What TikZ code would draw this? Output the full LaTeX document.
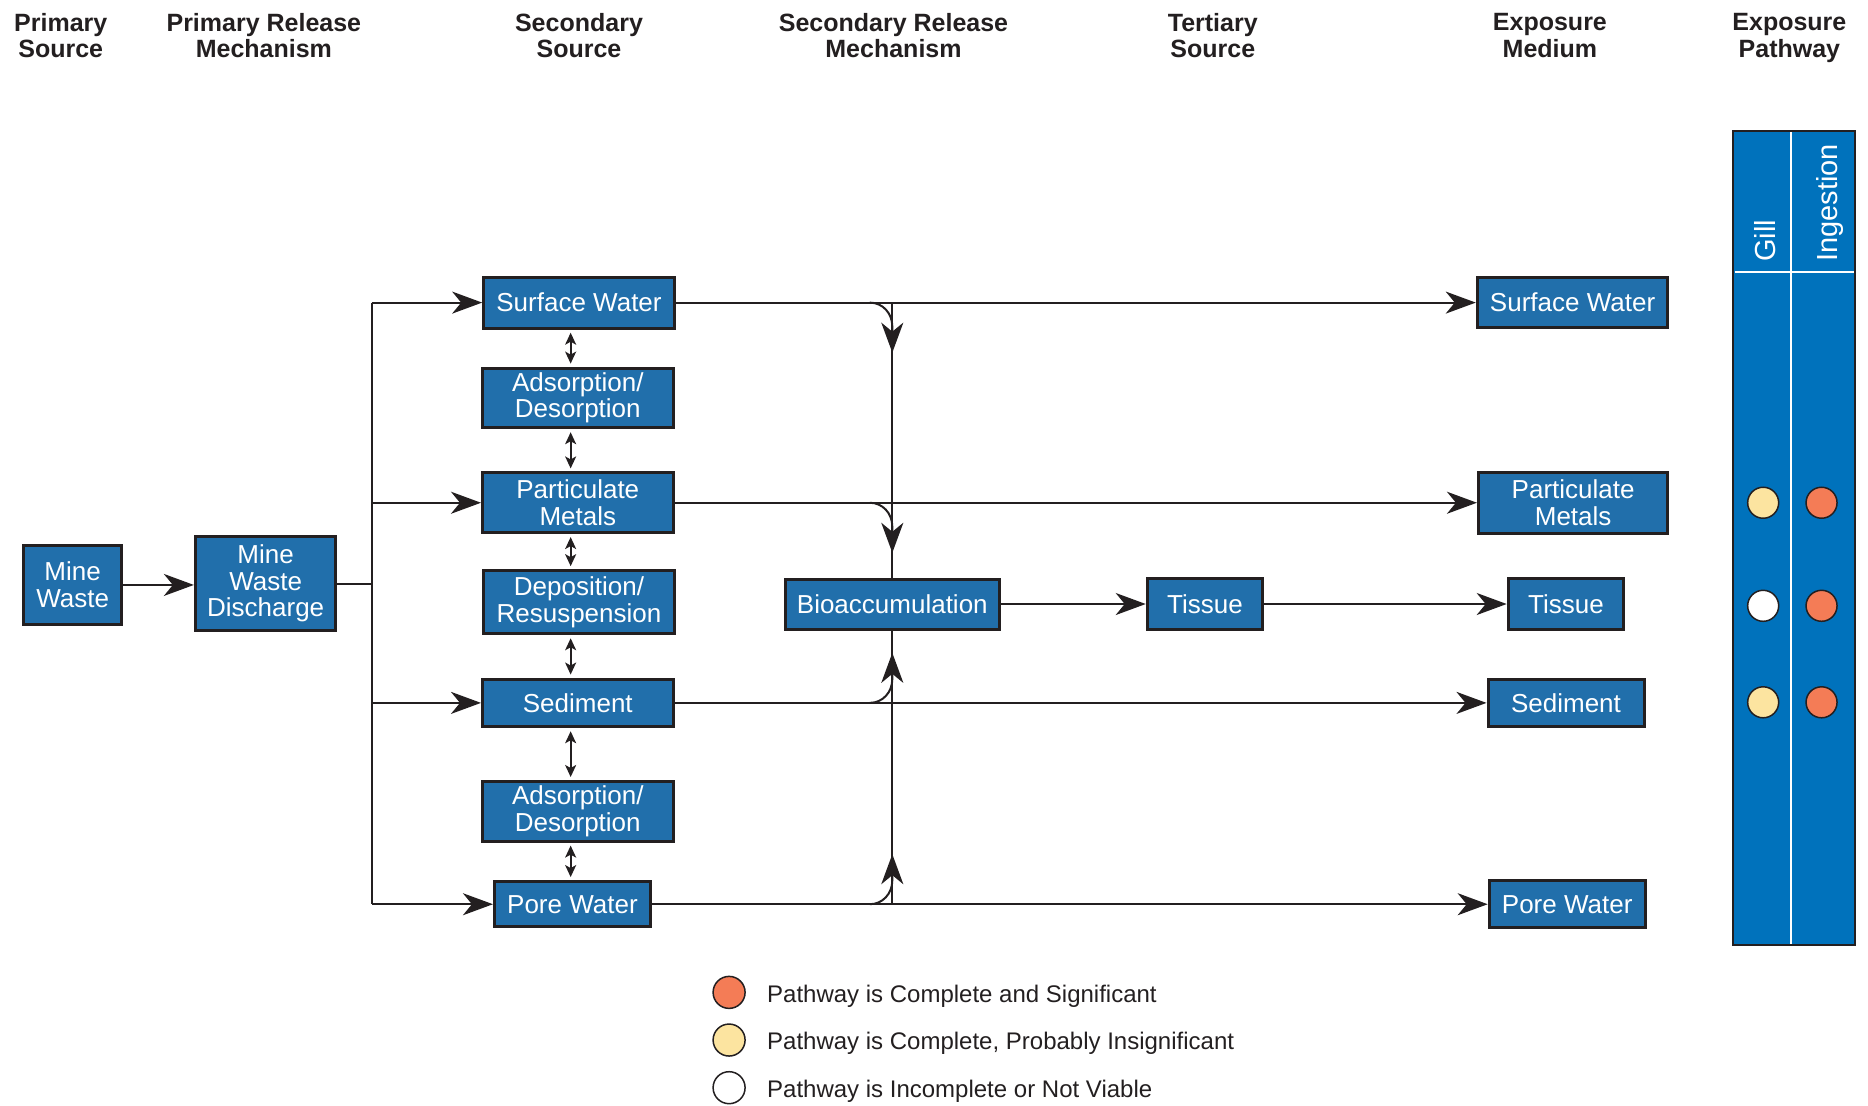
\documentclass[tikz,border=0pt]{standalone}
\usepackage{fontspec}
\setmainfont{Liberation Sans}
\usetikzlibrary{arrows.meta,calc}

\definecolor{boxblue}{RGB}{33,111,171}
\definecolor{colblue}{RGB}{0,114,188}
\definecolor{ink}{RGB}{35,31,32}
\definecolor{sigred}{RGB}{244,124,86}
\definecolor{insigyel}{RGB}{252,228,160}

\tikzset{
  box/.style={draw=ink, line width=3pt, fill=boxblue, text=white, inner sep=0pt,
              align=center, font=\fontsize{26}{26.5}\selectfont},
  head/.style={text=ink, align=center, font=\bfseries\fontsize{25}{26.5}\selectfont},
  link/.style={draw=ink, line width=2pt},
  flow/.style={link, -{Stealth[length=30pt,width=22pt,inset=9pt]}},
  swap/.style={link, line width=1.8pt,
               {Stealth[length=12pt,width=11pt,inset=3pt]}-{Stealth[length=12pt,width=11pt,inset=3pt]},
               shorten <=3pt, shorten >=3pt},
  dot/.style={circle, draw=ink, line width=1.5pt, minimum size=31pt, inner sep=0pt},
  legtext/.style={anchor=west, text=ink, font=\fontsize{24}{26}\selectfont},
  vlabel/.style={rotate=90, anchor=base west, text=white, inner sep=0pt,
                 font=\fontsize{29}{29}\selectfont},
}

\begin{document}
\begin{tikzpicture}[x=1.1913pt, y=-1.1913pt]
\useasboundingbox (0,0) rectangle (1568,928);

% column headings (the phantom keeps every heading the same depth)
\node[head] (h1) at (51,32)    {Primary\\Source\vphantom{y}};
\node[head] (h2) at (221.5,32) {Primary Release\\Mechanism\vphantom{y}};
\node[head] (h3) at (486,32)   {Secondary\\Source\vphantom{y}};
\node[head] (h4) at (750,32)   {Secondary Release\\Mechanism\vphantom{y}};
\node[head] (h5) at (1018,32)  {Tertiary\\Source\vphantom{y}};
\node[head] (h6) at (1301,32)  {Exposure\\Medium\vphantom{y}};
\node[head] (h7) at (1502,32)  {Exposure\\Pathway};

% sources and media
\node[box, minimum width=97.7pt,  minimum height=78.6pt] (mw)   at (61,491)     {Mine\\Waste};
\node[box, minimum width=140.6pt, minimum height=94.1pt] (mwd)  at (223,490)    {Mine\\Waste\\Discharge};
\node[box, minimum width=190.6pt, minimum height=51.2pt] (sws)  at (486,254)    {Surface Water};
\node[box, minimum width=190.6pt, minimum height=59.6pt] (ad1)  at (485,334)    {Adsorption/\\Desorption};
\node[box, minimum width=190.6pt, minimum height=59.6pt] (pms)  at (485,422)    {Particulate\\Metals};
\node[box, minimum width=190.6pt, minimum height=63.1pt] (dr)   at (486,505.5)  {Deposition/\\Resuspension};
\node[box, minimum width=190.6pt, minimum height=47.7pt] (seds) at (485,590)    {Sediment};
\node[box, minimum width=190.6pt, minimum height=59.6pt] (ad2)  at (485,681)    {Adsorption/\\Desorption};
\node[box, minimum width=156pt,   minimum height=45.3pt] (pws)  at (480.5,759)  {Pore Water};
\node[box, minimum width=214.4pt, minimum height=50pt]   (bio)  at (749,507)    {Bioaccumulation};
\node[box, minimum width=115.6pt, minimum height=51.2pt] (tt)   at (1011.5,507) {Tissue};
\node[box, minimum width=190.6pt, minimum height=50pt]   (swe)  at (1320,254)   {Surface Water};
\node[box, minimum width=189.4pt, minimum height=60.8pt] (pme)  at (1320.5,422) {Particulate\\Metals};
\node[box, minimum width=115.6pt, minimum height=51.2pt] (te)   at (1314.5,507) {Tissue};
\node[box, minimum width=156pt,   minimum height=46.5pt] (sede) at (1314.5,590) {Sediment};
\node[box, minimum width=156pt,   minimum height=46.5pt] (pwe)  at (1315.5,759) {Pore Water};

% primary release and distribution bus
\coordinate (bus) at (312,0);
\draw[flow] (mw.east) -- (mw.east -| mwd.west);
\draw[link] (mwd.east) -- (mwd.east -| bus);
\draw[link] (sws.west -| bus) -- (pws.west -| bus);
\draw[flow] (sws.west -| bus) -- (sws.west);
\draw[flow] (pms.west -| bus) -- (pms.west);
\draw[flow] (seds.west -| bus) -- (seds.west);
\draw[flow] (pws.west -| bus) -- (pws.west);

% exchanges between secondary sources
\coordinate (dx) at (479,0);
\draw[swap] (sws.south -| dx)  -- (ad1.north -| dx);
\draw[swap] (ad1.south -| dx)  -- (pms.north -| dx);
\draw[swap] (pms.south -| dx)  -- (dr.north -| dx);
\draw[swap] (dr.south -| dx)   -- (seds.north -| dx);
\draw[swap] (seds.south -| dx) -- (ad2.north -| dx);
\draw[swap] (ad2.south -| dx)  -- (pws.north -| dx);

% transport to exposure media
\draw[flow] (sws.east)  -- (swe.west);
\draw[flow] (pms.east)  -- (pme.west);
\draw[flow] (seds.east) -- (sede.west);
\draw[flow] (pws.east)  -- (pwe.west);
\draw[flow] (bio.east)  -- (tt.west);
\draw[flow] (tt.east)   -- (te.west);

% bioaccumulation feeders
\coordinate (j1) at (sws.east -| bio.north);
\coordinate (j2) at (pms.east -| bio.north);
\coordinate (j3) at (seds.east -| bio.south);
\coordinate (j4) at (pws.east -| bio.south);
\draw[link] (j1) -- (bio.north);
\draw[link] (bio.south) -- (j4);
\foreach \j in {j1,j2}
  \draw[flow] ($(\j)+(-19,0)$) .. controls ($(\j)+(-8,0)$) and ($(\j)+(0,9)$) .. ($(\j)+(0,20)$) -- ($(\j)+(0,42)$);
\foreach \j in {j3,j4}
  \draw[flow] ($(\j)+(-19,0)$) .. controls ($(\j)+(-8,0)$) and ($(\j)+(0,-9)$) .. ($(\j)+(0,-20)$) -- ($(\j)+(0,-42)$);

% exposure pathway table
\node[draw=ink, line width=2pt, fill=colblue, minimum width=121.5pt, minimum height=813.7pt, inner sep=0pt]
  (tab) at (1506,451.5) {};
\draw[white, line width=2pt] (1503,111) -- (1503,792);
\draw[white, line width=2pt] (1456,228) -- (1556,228);
\node[vlabel] (gill) at (1490,220) {Gill};
\node[vlabel] (ing)  at (1542,220) {Ingestion};

\node[dot, fill=insigyel] (g1) at (1480,422)   {};
\node[dot, fill=white]    (g2) at (1480,508.5) {};
\node[dot, fill=insigyel] (g3) at (1480,589.5) {};
\node[dot, fill=sigred]   (i1) at (1529,422)   {};
\node[dot, fill=sigred]   (i2) at (1529,508.5) {};
\node[dot, fill=sigred]   (i3) at (1529,589.5) {};

% legend
\node[dot, fill=sigred,   minimum size=32pt] (k1) at (612,833) {};
\node[dot, fill=insigyel, minimum size=32pt] (k2) at (612,873) {};
\node[dot, fill=white,    minimum size=32pt] (k3) at (612,913) {};
\node[legtext] (t1) at (641,836) {Pathway is Complete and Significant};
\node[legtext] (t2) at (641,876) {Pathway is Complete, Probably Insignificant};
\node[legtext] (t3) at (641,916) {Pathway is Incomplete or Not Viable};
\end{tikzpicture}
\end{document}
